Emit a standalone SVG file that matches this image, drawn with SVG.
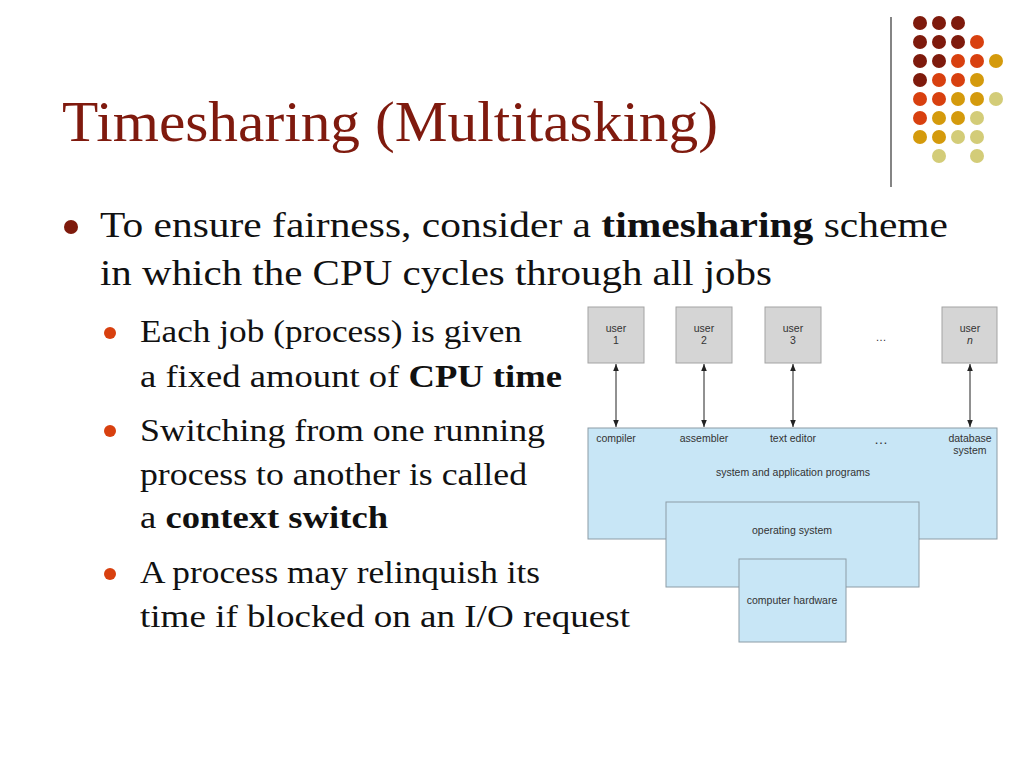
<svg xmlns="http://www.w3.org/2000/svg" width="1024" height="768" viewBox="0 0 1024 768">
<defs>
<style>
.title{font-family:"Liberation Serif","Times New Roman",serif;font-size:57px;fill:#7F1A0E}
.b1{font-family:"Liberation Serif","Times New Roman",serif;font-size:36px;fill:#111}
.b2{font-family:"Liberation Serif","Times New Roman",serif;font-size:32px;fill:#111}
.bold{font-weight:bold}
.lbl{font-family:"Liberation Sans",Arial,sans-serif;font-size:10.5px;fill:#333;text-anchor:middle}
.user{fill:#D5D5D5;stroke:#A3A3A3;stroke-width:1}
.layer{fill:#C8E6F6;stroke:#8C9CA6;stroke-width:1}
.conn{stroke:#222;stroke-width:1;fill:none;marker-start:url(#ah);marker-end:url(#ah)}
.dk{fill:#7E1A0C}.or{fill:#D8400F}.gd{fill:#D49A0C}.pl{fill:#D3CC78}
</style>
<marker id="ah" viewBox="0 0 10 10" refX="10" refY="5" markerWidth="7" markerHeight="7" orient="auto-start-reverse" markerUnits="userSpaceOnUse">
<path d="M0,1 L10,5 L0,9 z" fill="#222"/>
</marker>
</defs>
<rect width="1024" height="768" fill="#fff"/>

<g id="decor">
<line x1="891" y1="17" x2="891" y2="187" stroke="#333" stroke-width="1.2"/>
<circle class="dk" cx="920" cy="23" r="7"/><circle class="dk" cx="939" cy="23" r="7"/><circle class="dk" cx="958" cy="23" r="7"/>
<circle class="dk" cx="920" cy="42" r="7"/><circle class="dk" cx="939" cy="42" r="7"/><circle class="dk" cx="958" cy="42" r="7"/><circle class="or" cx="977" cy="42" r="7"/>
<circle class="dk" cx="920" cy="61" r="7"/><circle class="dk" cx="939" cy="61" r="7"/><circle class="or" cx="958" cy="61" r="7"/><circle class="or" cx="977" cy="61" r="7"/><circle class="gd" cx="996" cy="61" r="7"/>
<circle class="dk" cx="920" cy="80" r="7"/><circle class="or" cx="939" cy="80" r="7"/><circle class="or" cx="958" cy="80" r="7"/><circle class="gd" cx="977" cy="80" r="7"/>
<circle class="or" cx="920" cy="99" r="7"/><circle class="or" cx="939" cy="99" r="7"/><circle class="gd" cx="958" cy="99" r="7"/><circle class="gd" cx="977" cy="99" r="7"/><circle class="pl" cx="996" cy="99" r="7"/>
<circle class="or" cx="920" cy="118" r="7"/><circle class="gd" cx="939" cy="118" r="7"/><circle class="gd" cx="958" cy="118" r="7"/><circle class="pl" cx="977" cy="118" r="7"/>
<circle class="gd" cx="920" cy="137" r="7"/><circle class="gd" cx="939" cy="137" r="7"/><circle class="pl" cx="958" cy="137" r="7"/><circle class="pl" cx="977" cy="137" r="7"/>
<circle class="pl" cx="939" cy="156" r="7"/><circle class="pl" cx="977" cy="156" r="7"/>
</g>

<g id="title">
<text class="title" x="62" y="141" textLength="656" lengthAdjust="spacingAndGlyphs">Timesharing (Multitasking)</text>
</g>

<g id="bullets">
<circle cx="71" cy="227" r="7" fill="#7E1A0C"/>
<text class="b1" x="100" y="237" textLength="848" lengthAdjust="spacingAndGlyphs">To ensure fairness, consider a <tspan class="bold">timesharing</tspan> scheme</text>
<text class="b1" x="100" y="285" textLength="672" lengthAdjust="spacingAndGlyphs">in which the CPU cycles through all jobs</text>

<circle cx="110" cy="333" r="6" fill="#D8400F"/>
<text class="b2" x="140" y="342" textLength="382" lengthAdjust="spacingAndGlyphs">Each job (process) is given</text>
<text class="b2" x="140" y="387" textLength="422" lengthAdjust="spacingAndGlyphs">a fixed amount of <tspan class="bold">CPU time</tspan></text>

<circle cx="110" cy="431" r="6" fill="#D8400F"/>
<text class="b2" x="140" y="441" textLength="405" lengthAdjust="spacingAndGlyphs">Switching from one running</text>
<text class="b2" x="140" y="485" textLength="387" lengthAdjust="spacingAndGlyphs">process to another is called</text>
<text class="b2" x="140" y="528" textLength="248" lengthAdjust="spacingAndGlyphs">a <tspan class="bold">context switch</tspan></text>

<circle cx="110" cy="574" r="6" fill="#D8400F"/>
<text class="b2" x="140" y="583" textLength="400" lengthAdjust="spacingAndGlyphs">A process may relinquish its</text>
<text class="b2" x="140" y="627" textLength="490" lengthAdjust="spacingAndGlyphs">time if blocked on an I/O request</text>
</g>

<g id="layer-apps">
<rect class="layer" x="588" y="428" width="409" height="111"/>
<text class="lbl" x="616" y="442">compiler</text>
<text class="lbl" x="704" y="442">assembler</text>
<text class="lbl" x="793" y="442">text editor</text>
<text class="lbl" x="881" y="444" style="font-size:14px">…</text>
<text class="lbl" x="970" y="442">database</text>
<text class="lbl" x="970" y="454">system</text>
<text class="lbl" x="793" y="476">system and application programs</text>
</g>

<g id="layer-os">
<rect class="layer" x="666" y="502" width="253" height="85"/>
<text class="lbl" x="792" y="534">operating system</text>
</g>

<g id="layer-hw">
<rect class="layer" x="739" y="559" width="107" height="83"/>
<text class="lbl" x="792" y="604">computer hardware</text>
</g>

<g id="user1">
<rect class="user" x="588" y="307" width="56" height="56"/>
<text class="lbl" x="616" y="332">user</text>
<text class="lbl" x="616" y="344">1</text>
</g>
<g id="user2">
<rect class="user" x="676" y="307" width="56" height="56"/>
<text class="lbl" x="704" y="332">user</text>
<text class="lbl" x="704" y="344">2</text>
</g>
<g id="user3">
<rect class="user" x="765" y="307" width="56" height="56"/>
<text class="lbl" x="793" y="332">user</text>
<text class="lbl" x="793" y="344">3</text>
</g>
<g id="user-dots">
<text class="lbl" x="881" y="341" style="font-size:11px">…</text>
</g>
<g id="usern">
<rect class="user" x="942" y="307" width="55" height="56"/>
<text class="lbl" x="970" y="332">user</text>
<text class="lbl" x="970" y="344" style="font-style:italic">n</text>
</g>

<g id="connectors">
<line class="conn" x1="616" y1="364" x2="616" y2="427"/>
<line class="conn" x1="704" y1="364" x2="704" y2="427"/>
<line class="conn" x1="793" y1="364" x2="793" y2="427"/>
<line class="conn" x1="970" y1="364" x2="970" y2="427"/>
</g>
</svg>
